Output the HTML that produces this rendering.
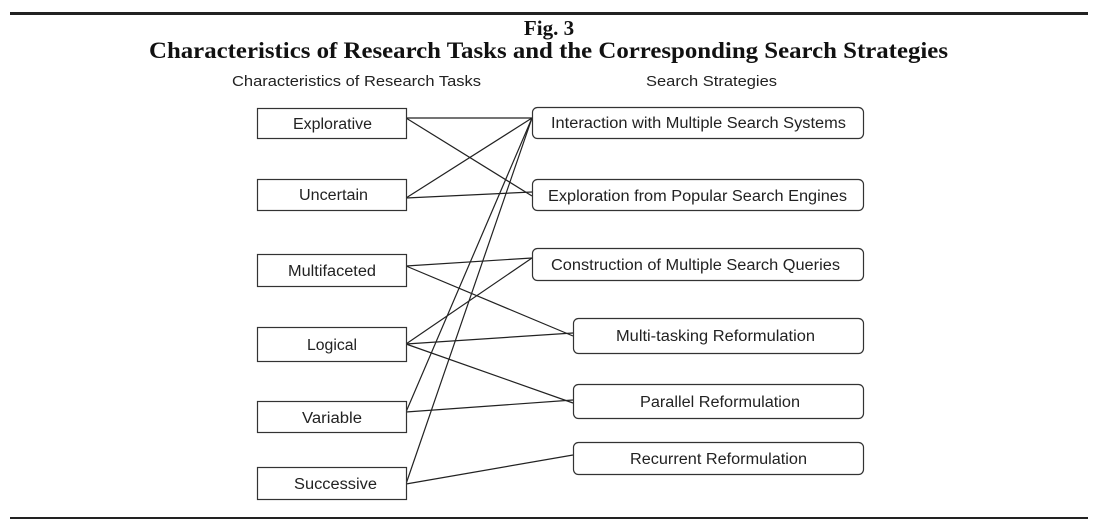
<!DOCTYPE html>
<html><head><meta charset="utf-8"><style>
html,body{margin:0;padding:0;background:#fff;}
svg{display:block;}
</style></head><body>
<svg width="1098" height="530" viewBox="0 0 1098 530" xmlns="http://www.w3.org/2000/svg">
<rect x="10" y="12" width="1078" height="3" fill="#222"/>
<rect x="10" y="517" width="1078" height="2" fill="#222"/>
<text x="549" y="35" text-anchor="middle" font-family="Liberation Serif, serif" font-weight="bold" font-size="21" fill="#111">Fig. 3</text>
<text x="149" y="58" textLength="799" lengthAdjust="spacingAndGlyphs" font-family="Liberation Serif, serif" font-weight="bold" font-size="23" fill="#111">Characteristics of Research Tasks and the Corresponding Search Strategies</text>
<g font-family="Liberation Sans, sans-serif" font-size="15" fill="#222">
<text x="232" y="86" textLength="249" lengthAdjust="spacingAndGlyphs">Characteristics of Research Tasks</text>
<text x="646" y="86" textLength="131" lengthAdjust="spacingAndGlyphs">Search Strategies</text>
</g>
<g stroke="#222" stroke-width="1.2" fill="none">
<line x1="406" y1="118" x2="532" y2="118"/>
<line x1="406" y1="118" x2="532" y2="196"/>
<line x1="406" y1="198" x2="532" y2="118"/>
<line x1="406" y1="198" x2="532" y2="192"/>
<line x1="406" y1="266" x2="532" y2="258"/>
<line x1="406" y1="266" x2="573" y2="336"/>
<line x1="406" y1="344" x2="532" y2="258"/>
<line x1="406" y1="344" x2="573" y2="333"/>
<line x1="406" y1="344" x2="573" y2="403"/>
<line x1="406" y1="412" x2="532" y2="118"/>
<line x1="406" y1="412" x2="573" y2="400"/>
<line x1="406" y1="484" x2="532" y2="118"/>
<line x1="406" y1="484" x2="573" y2="455"/>
</g>
<g stroke="#333" stroke-width="1.2" fill="#fff">
<rect x="257.5" y="108.5" width="149" height="30"/>
<rect x="257.5" y="179.5" width="149" height="31"/>
<rect x="257.5" y="254.5" width="149" height="32"/>
<rect x="257.5" y="327.5" width="149" height="34"/>
<rect x="257.5" y="401.5" width="149" height="31"/>
<rect x="257.5" y="467.5" width="149" height="32"/>
<rect x="532.5" y="107.5" width="331" height="31" rx="5"/>
<rect x="532.5" y="179.5" width="331" height="31" rx="5"/>
<rect x="532.5" y="248.5" width="331" height="32" rx="5"/>
<rect x="573.5" y="318.5" width="290" height="35" rx="5"/>
<rect x="573.5" y="384.5" width="290" height="34" rx="5"/>
<rect x="573.5" y="442.5" width="290" height="32" rx="5"/>
</g>
<g font-family="Liberation Sans, sans-serif" font-size="15.5" fill="#222">
<text x="293" y="129" textLength="79" lengthAdjust="spacingAndGlyphs">Explorative</text>
<text x="299" y="200" textLength="69" lengthAdjust="spacingAndGlyphs">Uncertain</text>
<text x="288" y="276" textLength="88" lengthAdjust="spacingAndGlyphs">Multifaceted</text>
<text x="307" y="350" textLength="50" lengthAdjust="spacingAndGlyphs">Logical</text>
<text x="302" y="423" textLength="60" lengthAdjust="spacingAndGlyphs">Variable</text>
<text x="294" y="489" textLength="83" lengthAdjust="spacingAndGlyphs">Successive</text>
<text x="551" y="128" textLength="295" lengthAdjust="spacingAndGlyphs">Interaction with Multiple Search Systems</text>
<text x="548" y="201" textLength="299" lengthAdjust="spacingAndGlyphs">Exploration from Popular Search Engines</text>
<text x="551" y="270" textLength="289" lengthAdjust="spacingAndGlyphs">Construction of Multiple Search Queries</text>
<text x="616" y="341" textLength="199" lengthAdjust="spacingAndGlyphs">Multi-tasking Reformulation</text>
<text x="640" y="407" textLength="160" lengthAdjust="spacingAndGlyphs">Parallel Reformulation</text>
<text x="630" y="464" textLength="177" lengthAdjust="spacingAndGlyphs">Recurrent Reformulation</text>
</g>
</svg>
</body></html>
